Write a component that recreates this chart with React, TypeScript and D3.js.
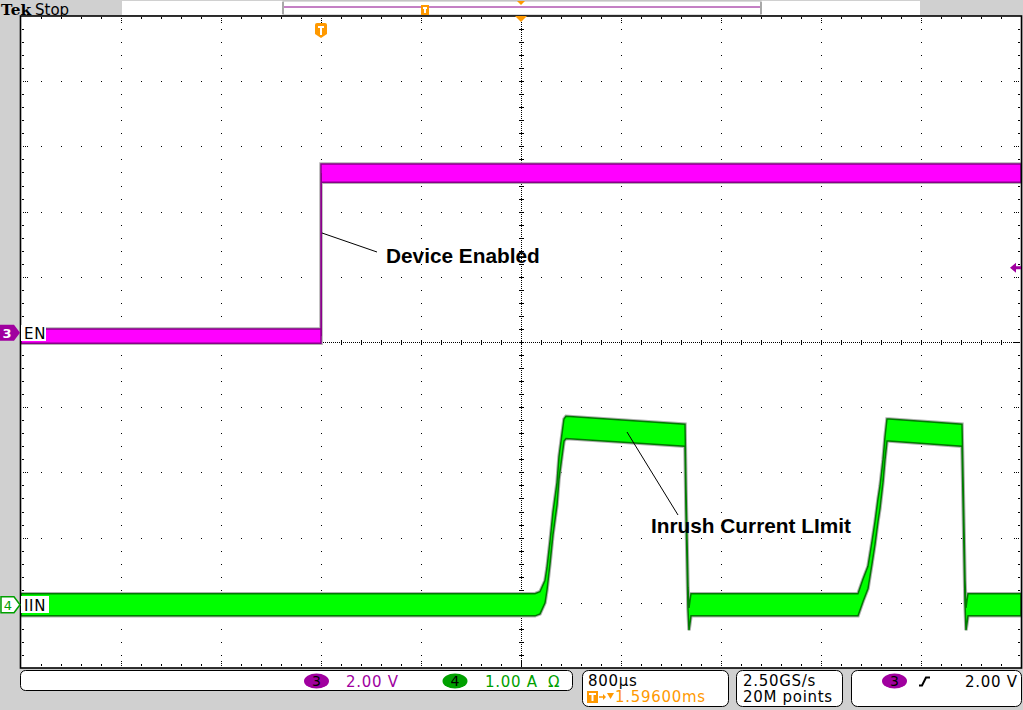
import React from 'react';
import * as d3 from 'd3';

// ---- Data (time in ms relative to trigger, EN in volts, IIN in amps) ----
const enTime = [-2.4, 0, 0, 5.6];
const enVolts = [-0.1, -0.1, 4.9, 4.9];
const enNoise = [0.22, 0.22, 0.28, 0.28];

const iinTime = [-2.4, 1.672, 1.712, 1.752, 1.792, 1.808, 1.832, 1.856, 1.888, 1.904, 1.928, 1.944, 1.96, 2.912, 2.92, 2.936, 2.944, 2.96, 4.272, 4.296, 4.336, 4.376, 4.408, 4.432, 4.456, 4.472, 4.496, 4.512, 4.528, 4.544, 5.128, 5.136, 5.152, 5.16, 5.176, 5.6];
const iinAmps = [0, 0, 0, 0.03, 0.2, 0.4, 0.8, 1.25, 1.7, 2.1, 2.45, 2.68, 2.72, 2.6, 1.6, 0.1, -0.22, 0, 0, 0, 0.22, 0.42, 0.8, 1.1, 1.45, 1.65, 2.05, 2.4, 2.68, 2.68, 2.6, 1.8, 0.2, -0.22, 0, 0];
const iinNoise = 0.17;

const timeDomain = [-2.4, 5.6];
const ch3Label = 'EN';
const ch4Label = 'IIN';
const ch3ScaleText = '2.00 V';
const ch4ScaleText = '1.00 A';
const timebaseText = '800µs';
const delayText = '1.59600ms';
const sampleRateText = '2.50GS/s';
const recordText = '20M points';
const trigLevelText = '2.00 V';
const annotations = ['Device Enabled', 'Inrush Current LImit'];

const PURPLE = '#a0009f';
const GREEN = '#00a000';
const ORANGE = '#ff9900';

export default function App() {
  const W = 1023, H = 710;
  const L = 21, R = 1021, T = 16, B = 668;
  const x = d3.scaleLinear().domain(timeDomain).range([L, R]);
  const xDiv = d3.scaleLinear().domain([0, 10]).range([L, R]);
  const yDiv = d3.scaleLinear().domain([-5, 5]).range([B, T]);
  const ch3Pos = 0.14, ch3VDiv = 2;
  const ch4Pos = -4.03, ch4ADiv = 1;
  const y3 = (v: number) => yDiv(v / ch3VDiv + ch3Pos);
  const y4 = (a: number) => yDiv(a / ch4ADiv + ch4Pos);

  // graticule dots
  let dots = '';
  const dot = (px: number, py: number, w = 1, h = 1) => { dots += `M${px},${py}h${w}v${h}h${-w}z`; };
  for (let i = 1; i <= 9; i++) {
    if (i === 5) continue;
    const px = Math.round(xDiv(i));
    for (let k = 1; k <= 49; k++) dot(px, Math.round(yDiv(-5 + k * 0.2)));
  }
  for (let j = -4; j <= 4; j++) {
    if (j === 0) continue;
    const py = Math.round(yDiv(j));
    for (let m = 1; m <= 49; m++) dot(Math.round(xDiv(m * 0.2)), py);
  }
  const cx = Math.round(xDiv(5)), cy = Math.round(yDiv(0));
  for (let py = T + 2; py < B - 1; py += 2) dot(cx, py);
  for (let k = 1; k <= 49; k++) dot(cx - 2, Math.round(yDiv(-5 + k * 0.2)), 5, 1);
  for (let px = L + 2; px < R - 1; px += 2) dot(px, cy);
  for (let m = 1; m <= 49; m++) dot(Math.round(xDiv(m * 0.2)), cy - 2, 1, 5);
  for (let m = 1; m <= 49; m++) {
    const px = Math.round(xDiv(m * 0.2));
    if (m % 5 === 0) { dot(px, T + 2); dot(px, T + 4); dot(px, T + 6); dot(px, B - 3); dot(px, B - 5); dot(px, B - 7); }
    else { dot(px, T + 1, 1, 2); dot(px, B - 4, 1, 2); }
  }
  for (let k = 1; k <= 49; k++) {
    const py = Math.round(yDiv(-5 + k * 0.2));
    if (k % 5 === 0) { dot(L + 2, py); dot(L + 4, py); dot(L + 6, py); dot(R - 3, py); dot(R - 5, py); dot(R - 7, py); }
    else { dot(L + 1, py, 2, 1); dot(R - 3, py, 2, 1); }
  }

  const enData = enTime.map((t, i) => ({ t, v: enVolts[i], n: enNoise[i] }));
  const enArea = d3.area<any>().x(d => x(d.t)).y0(d => y3(d.v - d.n)).y1(d => y3(d.v + d.n))(enData) || '';
  const iinData = iinTime.map((t, i) => ({ t, v: iinAmps[i] }));
  const iinArea = d3.area<any>().x(d => x(d.t)).y0(d => y4(d.v - iinNoise)).y1(d => y4(d.v + iinNoise))(iinData) || '';

  const xTrig = x(0);
  const txt = { fontFamily: 'DejaVu Sans', fontSize: 15, letterSpacing: '0.7px' } as any;
  const ann = { fontFamily: 'Liberation Sans, Arial, sans-serif', fontSize: 20.8, fontWeight: 700 } as any;

  const tBadge = (bx: number, by: number, w: number, h: number) => (
    <g>
      <rect x={bx} y={by} width={w} height={h} fill={ORANGE} />
      <rect x={bx + 2} y={by + 2} width={w - 4} height={2} fill="#fff" />
      <rect x={bx + w / 2 - 1} y={by + 2} width={2} height={h - 4} fill="#fff" />
    </g>
  );

  return (
    <svg width={W} height={H} style={{ position: 'absolute', left: 0, top: 0, display: 'block' }}>
      <defs>
        <clipPath id="plot"><rect x={L} y={T} width={R - L} height={B - T} /></clipPath>
      </defs>
      <rect x={0} y={0} width={W} height={H} fill="#d0d0d0" />
      {/* header */}
      <text x={1} y={15} fontFamily="DejaVu Serif" fontWeight={700} fontSize={15.5} textLength={30} lengthAdjust="spacingAndGlyphs">Tek</text>
      <text x={35} y={15} fontFamily="DejaVu Sans" fontSize={15}>Stop</text>
      <rect x={122} y={1} width={798} height={14} fill="#fff" />
      <rect x={283} y={1} width={478} height={14} fill="none" stroke="#b8b8b8" strokeWidth={1} />
      <rect x={282} y={2} width={2} height={12} fill="#a8a8a8" />
      <rect x={760} y={2} width={2} height={12} fill="#a8a8a8" />
      <line x1={284} x2={760} y1={7} y2={7} stroke="#8a008a" strokeWidth={1} />
      {tBadge(421, 5, 8, 10)}
      <polygon points="517,1 525,1 521,5" fill={ORANGE} />

      {/* plot area */}
      <rect x={L} y={T} width={R - L} height={B - T} fill="#fff" />
      <path d={dots} fill="#000" shapeRendering="crispEdges" />

      <g clipPath="url(#plot)">
        <path d={enArea} fill="none" stroke="#b0b0b0" strokeWidth={3.5} />
        <path d={enArea} fill="#ff00ff" stroke="#8a008a" strokeWidth={1.5} />
        <line x1={xTrig + 0.5} x2={xTrig + 0.5} y1={y3(enVolts[1])} y2={y3(enVolts[2])} stroke="#8a008a" strokeWidth={1} />
        <path d={iinArea} fill="none" stroke="#b0b0b0" strokeWidth={3.5} />
        <path d={iinArea} fill="#00ff00" stroke="#007a00" strokeWidth={1.5} />
      </g>

      <rect x={L - 0.5} y={T} width={R - L + 1} height={B - T} fill="none" stroke="#000" strokeWidth={1.6} />
      <polygon points={`${cx - 6},${T} ${cx + 6},${T} ${cx},${T + 6}`} fill={ORANGE} />
      <path d={`M${xTrig - 6},${T + 9} q0,-2 2,-2 h8 q2,0 2,2 v9 l-6,4 l-6,-4 z`} fill={ORANGE} />
      <rect x={xTrig - 3} y={T + 10} width={6} height={2} fill="#fff" />
      <rect x={xTrig - 1} y={T + 10} width={2} height={9} fill="#fff" />

      {/* channel labels */}
      <rect x={L} y={325} width={25} height={16} fill="#fff" />
      <text x={24} y={339} {...txt}>{ch3Label}</text>
      <rect x={L} y={596} width={28} height={17} fill="#fff" />
      <text x={24} y={611} {...txt}>{ch4Label}</text>

      {/* ground markers */}
      <polygon points={`0,${y3(0) - 8} 14,${y3(0) - 8} 20,${y3(0)} 14,${y3(0) + 8} 0,${y3(0) + 8}`} fill={PURPLE} />
      <text x={7} y={y3(0) + 5} fontFamily="DejaVu Sans" fontSize={13} fontWeight={700} fill="#fff" textAnchor="middle">3</text>
      <polygon points={`1,${y4(0) - 8} 14,${y4(0) - 8} 20,${y4(0)} 14,${y4(0) + 8} 1,${y4(0) + 8}`} fill="#fff" stroke={GREEN} strokeWidth={1.5} />
      <text x={8} y={y4(0) + 5} fontFamily="DejaVu Sans" fontSize={13} fill={GREEN} textAnchor="middle">4</text>

      {/* trigger level marker */}
      <polygon points={`1010,${y3(2)} 1016,${y3(2) - 5} 1016,${y3(2) - 1.5} 1021,${y3(2) - 1.5} 1021,${y3(2) + 1.5} 1016,${y3(2) + 1.5} 1016,${y3(2) + 5}`} fill={PURPLE} />

      {/* annotations */}
      <line x1={322} y1={233} x2={377} y2={252} stroke="#000" strokeWidth={1} />
      <text x={386} y={263} {...ann}>{annotations[0]}</text>
      <line x1={627} y1={432} x2={678} y2={515} stroke="#000" strokeWidth={1} />
      <text x={651} y={533} {...ann}>{annotations[1]}</text>

      {/* status bar */}
      <rect x={20.5} y={670.5} width={552} height={20} rx={5} fill="#fff" stroke="#000" strokeWidth={1} />
      <ellipse cx={316.5} cy={681} rx={12.5} ry={7.5} fill={PURPLE} />
      <text x={316.5} y={686} fontFamily="DejaVu Sans" fontSize={14} textAnchor="middle">3</text>
      <text x={346} y={687} {...txt} fill={PURPLE}>{ch3ScaleText}</text>
      <ellipse cx={455} cy={681} rx={12.5} ry={7.5} fill={GREEN} />
      <text x={455} y={686} fontFamily="DejaVu Sans" fontSize={14} textAnchor="middle">4</text>
      <text x={485} y={687} {...txt} fill={GREEN}>{ch4ScaleText}</text>
      <text x={548} y={687} {...txt} fill={GREEN}>Ω</text>

      <rect x={582.5} y={670.5} width={146} height={36} rx={6} fill="#fff" stroke="#000" strokeWidth={1} />
      <text x={588} y={686} {...txt}>{timebaseText}</text>
      {tBadge(587, 691, 11, 12)}
      <line x1={599} x2={605} y1={697} y2={697} stroke={ORANGE} strokeWidth={1.5} />
      <polygon points="603,694 606,697 603,700" fill={ORANGE} />
      <polygon points="607,693 614,693 610.5,699" fill={ORANGE} />
      <text x={615} y={702} {...txt} fill={ORANGE}>{delayText}</text>

      <rect x={736.5} y={670.5} width={106} height={36} rx={6} fill="#fff" stroke="#000" strokeWidth={1} />
      <text x={743} y={686} {...txt}>{sampleRateText}</text>
      <text x={743} y={702} {...txt}>{recordText}</text>

      <rect x={851.5} y={670.5} width={170} height={36} rx={6} fill="#fff" stroke="#000" strokeWidth={1} />
      <ellipse cx={894.5} cy={681} rx={12.5} ry={7.5} fill={PURPLE} />
      <text x={894.5} y={686} fontFamily="DejaVu Sans" fontSize={14} textAnchor="middle">3</text>
      <path d="M919,685.5 h3 l4,-8 h4" fill="none" stroke="#000" strokeWidth={2} />
      <text x={965} y={687} {...txt}>{trigLevelText}</text>
    </svg>
  );
}
